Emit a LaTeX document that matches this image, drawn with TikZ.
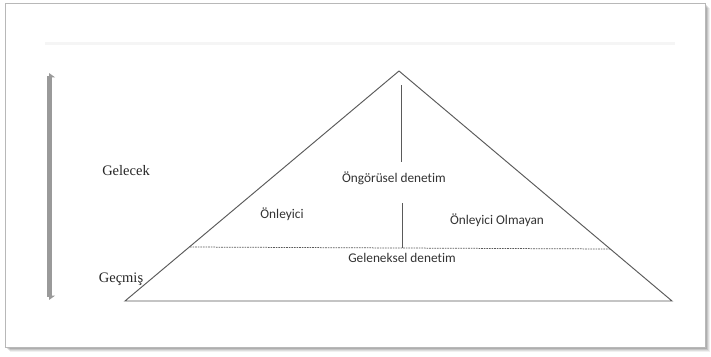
\documentclass[tikz,border=0pt]{standalone}
\usepackage{fontspec}
\setmainfont{Liberation Serif}
\newfontfamily\calib[Ligatures=NoCommon]{Carlito}
\usetikzlibrary{arrows.meta}
\definecolor{edge}{HTML}{5A5A5A}
\definecolor{framec}{HTML}{B8B8B8}
\definecolor{barc}{HTML}{9A9A9A}
\begin{document}
\begin{tikzpicture}[x=1pt,y=-1pt,
  tri/.style={draw=edge,line width=0.95pt},
  sep/.style={draw=edge,line width=0.75pt,dash pattern=on 1.6pt off 1pt},
  serif/.style={font=\fontsize{14.5}{16}\selectfont,text=black!85,inner sep=0pt},
  sans/.style={font=\calib\fontsize{13.3}{15}\selectfont,text=black!80,inner sep=0pt}]
  \useasboundingbox (0,0) rectangle (711,356);
  % soft drop shadow of the card
  \foreach \k/\o in {5/0.06,4/0.08,3/0.10,2/0.12,1/0.14}
    \fill[black,opacity=\o] (5+\k,3+\k) rectangle (705+\k,347+\k);
  \fill[white] (5,3) rectangle (705,347);
  \draw[framec,line width=1pt] (5,3) rectangle (705,347);
  % faint rule near the top
  \draw[black!4,line width=3pt] (45,43) -- (675,43);
  % time axis
  \coordinate (up) at (49.5,73);
  \coordinate (down) at (49.5,300);
  \draw[barc,line width=5pt,{Triangle[harpoon,length=4pt,width=11pt]}-{Triangle[harpoon,swap,length=4pt,width=11pt]}] (down) -- (up);
  % pyramid
  \coordinate (apex) at (399,71);
  \coordinate (bl) at (125,301);
  \coordinate (br) at (672,301);
  \draw[tri,line join=miter] (bl) -- (apex) -- (br) -- cycle;
  % boundary between future and past
  \coordinate (dl) at (190,247);
  \coordinate (dr) at (610,249);
  \draw[sep] (dl) -- (dr);
  % centre divider
  \coordinate (v1) at (401,85);
  \coordinate (v2) at (401,162);
  \coordinate (v3) at (402,203);
  \coordinate (v4) at (402,248);
  \draw[tri] (v1) -- (v2);
  \draw[tri] (v3) -- (v4);
  % labels
  \node[serif] (gel) at (126,171) {Gelecek};
  \node[serif] (gec) at (121,279) {Geçmiş};
  \node[sans] (ong) at (394,178) {Öngörüsel denetim};
  \node[sans] (onl) at (282,214) {Önleyici};
  \node[sans] (olm) at (497,220) {Önleyici Olmayan};
  \node[sans] (gen) at (402,258) {Geleneksel denetim};
\end{tikzpicture}
\end{document}
